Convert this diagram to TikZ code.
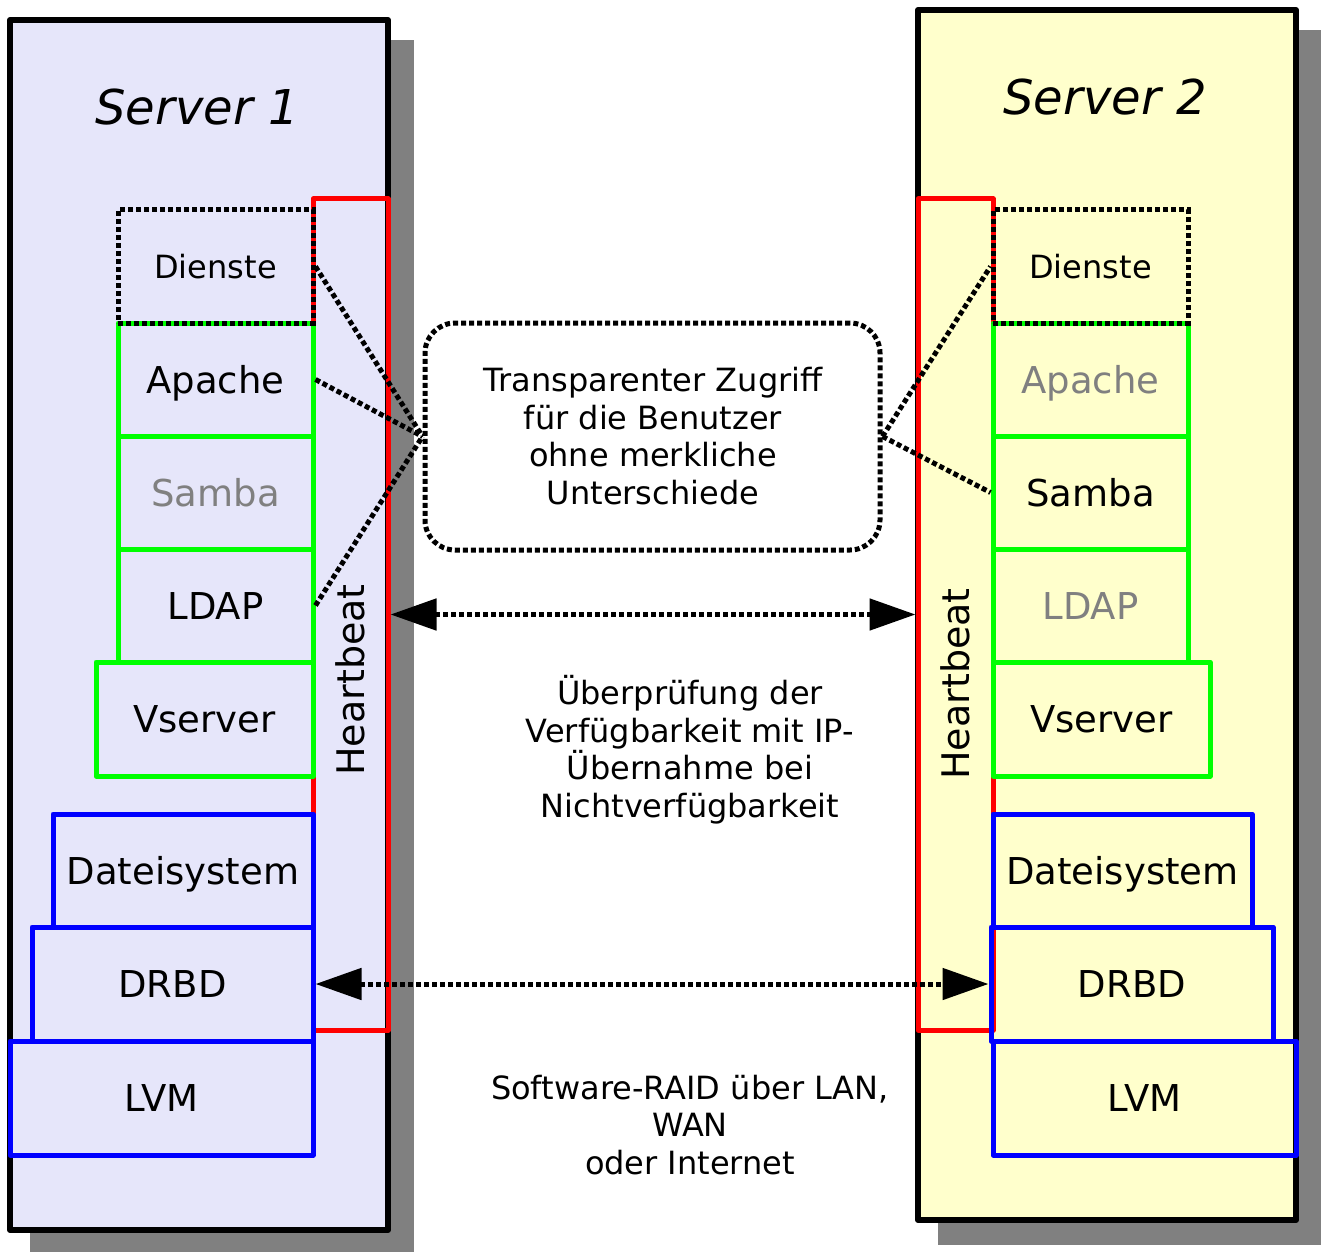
\documentclass[tikz,border=0pt]{standalone}
\usepackage{fontspec}
\setmainfont{DejaVu Sans}
\usetikzlibrary{arrows.meta}
\definecolor{lav}{RGB}{230,230,250}
\definecolor{lyel}{RGB}{255,255,204}
\definecolor{shad}{RGB}{128,128,128}
\definecolor{pgreen}{RGB}{0,255,0}
\definecolor{pblue}{RGB}{0,0,255}
\definecolor{pred}{RGB}{255,0,0}
\begin{document}
\begin{tikzpicture}[x=1pt,y=-1pt,
  rbox/.style={rectangle, inner sep=0pt, anchor=center},
  srvbox/.style={rbox, draw=black, line width=6pt, line join=round},
  hbbox/.style={rbox, draw=pred, line width=5pt, line join=round},
  grbox/.style={rbox, draw=pgreen, line width=5pt, line join=round, font=\fontsize{37}{44}\selectfont, text height=27pt, text depth=0pt},
  blbox/.style={rbox, draw=pblue, line width=5pt, line join=round, font=\fontsize{37}{44}\selectfont, text height=27pt, text depth=0pt},
  dotbox/.style={rbox, draw=black, line width=5pt, dash pattern=on 5pt off 3pt, font=\fontsize{32}{38}\selectfont, text height=23.3pt, text depth=0pt},
  idle/.style={text=shad},
  conn/.style={line width=5pt, dash pattern=on 5pt off 3pt},
  dblarrow/.style={line width=5pt, dash pattern=on 5pt off 3pt, {Triangle[length=46pt,width=31pt]}-{Triangle[length=46pt,width=31pt]}},
  midtxt/.style={align=center, inner sep=0pt, font=\fontsize{32}{37.5}\selectfont},
  title/.style={inner sep=0pt, font=\fontsize{48}{56}\selectfont\itshape},
  hbtxt/.style={inner sep=0pt, rotate=90, font=\fontsize{38}{44}\selectfont}
]
\useasboundingbox (0,0) rectangle (1322,1252);
% shadows
\fill[shad] (30,40) rectangle (414,1252);
\fill[shad] (938,30) rectangle (1321,1245);
% server boxes
\node[srvbox, fill=lav, minimum width=378pt, minimum height=1210pt] (server1) at (199,625) {};
\node[srvbox, fill=lyel, minimum width=378pt, minimum height=1210pt] (server2) at (1107,615) {};
\node[title] (t1) at (197,107) {Server 1};
\node[title] (t2) at (1105,97) {Server 2};
% heartbeat frames
\node[hbbox, minimum width=75pt, minimum height=831pt] (red1) at (350.5,614.5) {};
\node[hbbox, minimum width=75pt, minimum height=831pt] (red2) at (955.5,614.5) {};
\node[hbtxt] (hb1) at (350,680) {Heartbeat};
\node[hbtxt] (hb2) at (955,684) {Heartbeat};
% services left
\node[grbox, minimum width=195pt, minimum height=113pt] (apache1) at (215.5,379.5) {Apache};
\node[grbox, idle, minimum width=195pt, minimum height=113pt] (samba1) at (215.5,492.5) {Samba};
\node[grbox, minimum width=195pt, minimum height=113pt] (ldap1) at (215.5,605.5) {LDAP};
\node[grbox, minimum width=217pt, minimum height=114pt] (vserver1) at (204.5,719) {Vserver};
% storage left
\node[blbox, minimum width=260pt, minimum height=113pt] (datei1) at (183,870.5) {Dateisystem};
\node[blbox, minimum width=281pt, minimum height=114pt] (drbd1) at (172.5,984) {DRBD};
\node[blbox, minimum width=303pt, minimum height=114pt] (lvm1) at (161.5,1098) {LVM};
% services right
\node[grbox, idle, minimum width=195pt, minimum height=113pt] (apache2) at (1090.5,379.5) {Apache};
\node[grbox, minimum width=195pt, minimum height=113pt] (samba2) at (1090.5,492.5) {Samba};
\node[grbox, idle, minimum width=195pt, minimum height=113pt] (ldap2) at (1090.5,605.5) {LDAP};
\node[grbox, minimum width=217pt, minimum height=114pt] (vserver2) at (1101.5,719) {Vserver};
% storage right
\node[blbox, minimum width=259pt, minimum height=113pt] (datei2) at (1122.5,870.5) {Dateisystem};
\node[blbox, minimum width=282pt, minimum height=114pt] (drbd2) at (1132,984) {DRBD};
\node[blbox, minimum width=303pt, minimum height=114pt] (lvm2) at (1144.5,1098) {LVM};
% Dienste
\node[dotbox, minimum width=195pt, minimum height=113pt] (dienste1) at (215.5,266.5) {Dienste};
\node[dotbox, minimum width=195pt, minimum height=113pt] (dienste2) at (1090.5,266.5) {Dienste};
% transparent access box
\node[rbox, draw=black, line width=5pt, dash pattern=on 5pt off 3pt, rounded corners=30pt, minimum width=455pt, minimum height=227pt] (trans) at (652.5,436.5) {};
\node[midtxt] (transtxt) at (653,436) {Transparenter Zugriff\\für die Benutzer\\ohne merkliche\\Unterschiede};
\node[midtxt] (hbinfo) at (690,749.5) {Überprüfung der\\Verfügbarkeit mit IP-\\Übernahme bei\\Nichtverfügbarkeit};
\node[midtxt] (raid) at (690,1125) {Software-RAID über LAN,\\WAN\\oder Internet};
% connectors
\draw[conn] (dienste1.east) -- (trans.west);
\draw[conn] (apache1.east) -- (trans.west);
\draw[conn] (ldap1.east) -- (trans.west);
\draw[conn] (trans.east) -- (dienste2.west);
\draw[conn] (trans.east) -- (samba2.west);
\draw[dblarrow] (red1.east) -- (red2.west);
\draw[dblarrow] (drbd1.east) -- (drbd2.west);
\end{tikzpicture}
\end{document}
